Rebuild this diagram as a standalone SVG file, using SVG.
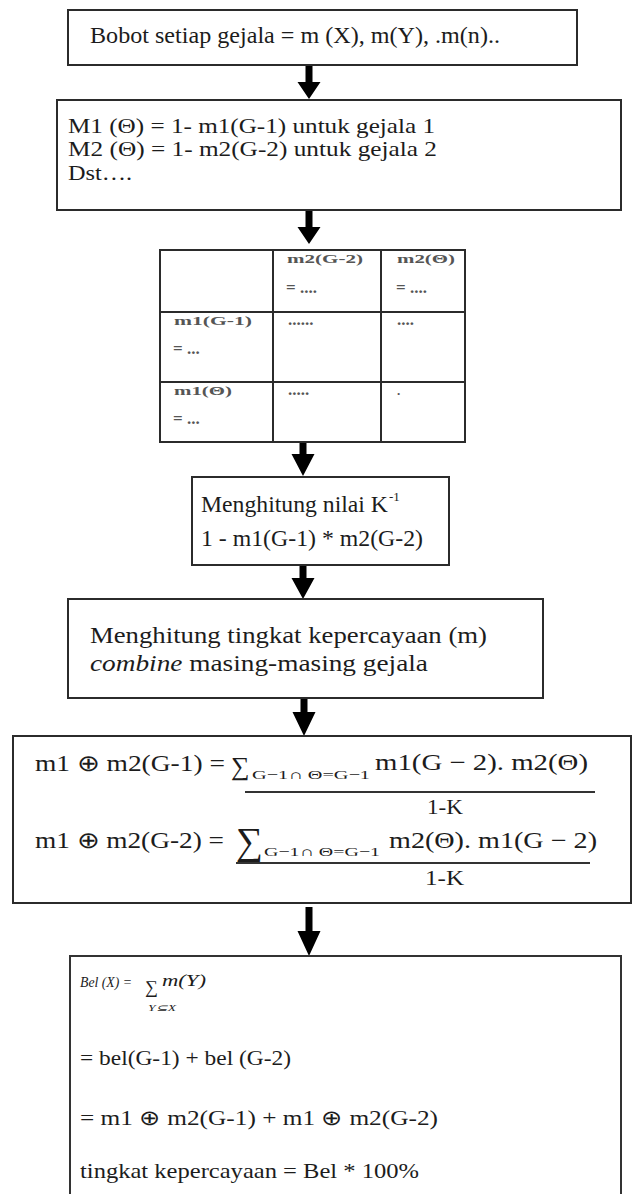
<svg xmlns="http://www.w3.org/2000/svg" width="635" height="1194" viewBox="0 0 635 1194">
<style>
.box{fill:#fff;stroke:#2b2b2b;stroke-width:2}
.t{font-family:"Liberation Serif","Times New Roman",serif;fill:#1c1c1c}
.tb{font-family:"Liberation Serif","Times New Roman",serif;fill:#555;font-size:13px;font-weight:bold}
.eq{font-family:"Liberation Serif","Times New Roman",serif;fill:#555;font-size:17px;font-weight:bold}
.grid{stroke:#2b2b2b;stroke-width:2;fill:none}
.arr{fill:#000}
.bar{stroke:#333;stroke-width:2}
</style>
<rect width="635" height="1194" fill="#fff"/>
<g id="connectors">
<path class="arr" d="M305.5,66 h7 v16 h8 l-11.5,17 l-11.5,-17 h8 z"/>
<path class="arr" d="M305.5,211 h7 v16 h8 l-11.5,17 l-11.5,-17 h8 z"/>
<path class="arr" d="M299.5,443 h7 v11 h8 l-11.5,22 l-11.5,-22 h8 z"/>
<path class="arr" d="M299.5,566 h7 v12 h8 l-11.5,21 l-11.5,-21 h8 z"/>
<path class="arr" d="M300.5,699 h7 v13 h8 l-11.5,24 l-11.5,-24 h8 z"/>
<path class="arr" d="M305.5,907 h7 v24 h8 l-11.5,25 l-11.5,-25 h8 z"/>
</g>
<g id="node1">
<rect class="box" x="68" y="10" width="509" height="55"/>
<text class="t" x="90" y="43" font-size="23" textLength="410" lengthAdjust="spacingAndGlyphs">Bobot setiap gejala = m (X), m(Y), .m(n)..</text>
</g>
<g id="node2">
<rect class="box" x="57" y="100" width="564" height="110"/>
<text class="t" x="68" y="133" font-size="22" textLength="367" lengthAdjust="spacingAndGlyphs">M1 (Θ) =  1-  m1(G-1) untuk gejala 1</text>
<text class="t" x="68" y="156" font-size="22" textLength="369" lengthAdjust="spacingAndGlyphs">M2 (Θ) =  1-  m2(G-2) untuk gejala 2</text>
<text class="t" x="68" y="180" font-size="22" textLength="64" lengthAdjust="spacingAndGlyphs">Dst….</text>
</g>
<g id="node3">
<rect class="grid" x="160" y="250" width="305" height="192"/>
<line class="grid" x1="273" y1="250" x2="273" y2="442"/>
<line class="grid" x1="381" y1="250" x2="381" y2="442"/>
<line class="grid" x1="160" y1="312" x2="465" y2="312"/>
<line class="grid" x1="160" y1="382" x2="465" y2="382"/>
<text class="tb" x="287" y="263" textLength="76" lengthAdjust="spacingAndGlyphs">m2(G-2)</text>
<text class="eq" x="286" y="293">= ....</text>
<text class="tb" x="397" y="263" textLength="58" lengthAdjust="spacingAndGlyphs">m2(Θ)</text>
<text class="eq" x="396" y="293">= ....</text>
<text class="tb" x="174" y="325" textLength="78" lengthAdjust="spacingAndGlyphs">m1(G-1)</text>
<text class="eq" x="173" y="354">= ...</text>
<text class="eq" x="288" y="325">......</text>
<text class="eq" x="397" y="325">....</text>
<text class="tb" x="174" y="395" textLength="58" lengthAdjust="spacingAndGlyphs">m1(Θ)</text>
<text class="eq" x="173" y="424">= ...</text>
<text class="eq" x="288" y="395">.....</text>
<text class="tb" x="397" y="395">.</text>
</g>
<g id="node4">
<rect class="box" x="192" y="477" width="257" height="88"/>
<text class="t" x="201" y="512" font-size="23" textLength="187" lengthAdjust="spacingAndGlyphs">Menghitung nilai K</text>
<text class="t" x="389" y="501" font-size="13">-1</text>
<text class="t" x="201" y="546" font-size="23" textLength="222" lengthAdjust="spacingAndGlyphs">1 - m1(G-1) * m2(G-2)</text>
</g>
<g id="node5">
<rect class="box" x="68" y="599" width="475" height="99"/>
<text class="t" x="90" y="643" font-size="24" textLength="397" lengthAdjust="spacingAndGlyphs">Menghitung tingkat kepercayaan (m)</text>
<text class="t" x="90" y="671" font-size="24" textLength="338" lengthAdjust="spacingAndGlyphs"><tspan font-style="italic">combine</tspan> masing-masing  gejala</text>
</g>
<g id="node6">
<rect class="box" x="13" y="736" width="618" height="167"/>
<text class="t" x="35" y="771" font-size="23" textLength="190" lengthAdjust="spacingAndGlyphs">m1 ⊕ m2(G-1) =</text>
<text class="t" x="231" y="775" font-size="26">∑</text>
<text class="t" x="252" y="779" font-size="13" textLength="118" lengthAdjust="spacingAndGlyphs">G−1∩ Θ=G−1</text>
<text class="t" x="375" y="770" font-size="23" textLength="213" lengthAdjust="spacingAndGlyphs">m1(G − 2). m2(Θ)</text>
<line class="bar" x1="245" y1="792" x2="595" y2="792"/>
<text class="t" x="427" y="814" font-size="21" textLength="36" lengthAdjust="spacingAndGlyphs">1-K</text>
<text class="t" x="35" y="848" font-size="23" textLength="189" lengthAdjust="spacingAndGlyphs">m1 ⊕ m2(G-2) =</text>
<text class="t" x="236" y="854" font-size="38">∑</text>
<text class="t" x="264" y="856" font-size="13" textLength="116" lengthAdjust="spacingAndGlyphs">G−1∩ Θ=G−1</text>
<text class="t" x="389" y="848" font-size="23" textLength="208" lengthAdjust="spacingAndGlyphs">m2(Θ). m1(G − 2)</text>
<line class="bar" x1="236" y1="863" x2="590" y2="863"/>
<text class="t" x="425" y="885" font-size="21" textLength="39" lengthAdjust="spacingAndGlyphs">1-K</text>
</g>
<g id="node7">
<path d="M70,1194 V956 H621 V1194" fill="none" stroke="#333" stroke-width="2"/>
<text class="t" x="80" y="987" font-size="14" font-style="italic" textLength="52" lengthAdjust="spacingAndGlyphs">Bel (X) =</text>
<text class="t" x="145" y="993" font-size="18">∑</text>
<text class="t" x="162" y="986" font-size="17" font-style="italic" textLength="44" lengthAdjust="spacingAndGlyphs">m(Y)</text>
<text class="t" x="148" y="1011" font-size="9" font-style="italic" textLength="28" lengthAdjust="spacingAndGlyphs">Y⊆X</text>
<text class="t" x="80" y="1065" font-size="21" textLength="211" lengthAdjust="spacingAndGlyphs">= bel(G-1) + bel (G-2)</text>
<text class="t" x="80" y="1125" font-size="21" textLength="358" lengthAdjust="spacingAndGlyphs">= m1 ⊕ m2(G-1) + m1 ⊕ m2(G-2)</text>
<text class="t" x="80" y="1178" font-size="21" textLength="339" lengthAdjust="spacingAndGlyphs">tingkat kepercayaan = Bel * 100%</text>
</g>
</svg>
